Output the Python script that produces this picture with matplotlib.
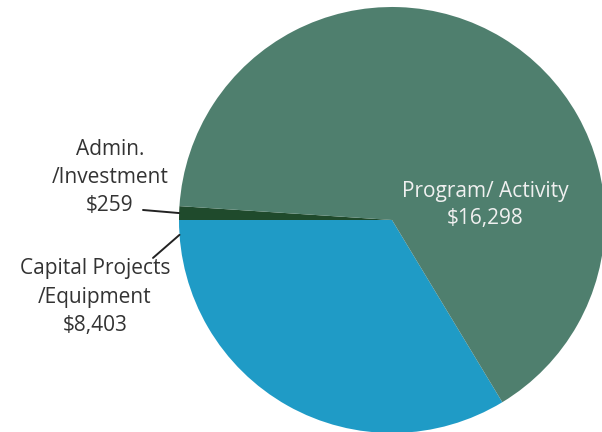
import numpy as np
import matplotlib.pyplot as plt

# budget split (dollars shown on the labels)
categories = ["Admin.\n/Investment", "Capital Projects\n/Equipment", "Program/ Activity"]
values = [259, 8403, 16298]
colors = ["#1f4a2c", "#1f9bc6", "#4f7f6e"]

plt.rcParams['font.family'] = ['Open Sans', 'DejaVu Sans']

fig = plt.figure(figsize=(6.02, 4.32), dpi=100)
# square axes so the pie sits right of centre and runs off the bottom edge
ax = fig.add_axes([179 / 602, -1 / 432, 426 / 602, 426 / 432])

total = sum(values)
start = 180 - 360 * values[0] / total
wedges, _ = ax.pie(values, colors=colors, startangle=start, counterclock=True,
                   radius=1, wedgeprops=dict(linewidth=0))
ax.set_xlim(-1, 1)
ax.set_ylim(-1, 1)
ax.set_aspect('equal')
ax.axis('off')


def rim(w, frac):
    a = np.deg2rad(w.theta1 + (w.theta2 - w.theta1) * frac)
    return np.cos(a), np.sin(a)


lbl = [f"{c}\n${v:,}" for c, v in zip(categories, values)]
txt = dict(ha='center', va='center', fontsize=15, color='#333333',
           linespacing=1.45, clip_on=False)
leader = dict(arrowstyle='-', color='#222222', lw=1.4, shrinkA=0, shrinkB=0)

# outside labels with leader lines to the thin slices
ax.text(-1.324, 0.20, lbl[0], **txt)
ax.annotate('', xy=rim(wedges[0], 0.5), xytext=(-1.169, 0.047),
            arrowprops=leader, annotation_clip=False)

ax.text(-1.394, -0.362, lbl[1], **txt)
ax.annotate('', xy=rim(wedges[1], 0.033), xytext=(-1.122, -0.178),
            arrowprops=leader, annotation_clip=False)

ax.text(0.437, 0.07, lbl[2], ha='center', va='center', fontsize=15,
        color='#f0f0f0', linespacing=1.4)

fig.savefig('out.png', dpi=100)
